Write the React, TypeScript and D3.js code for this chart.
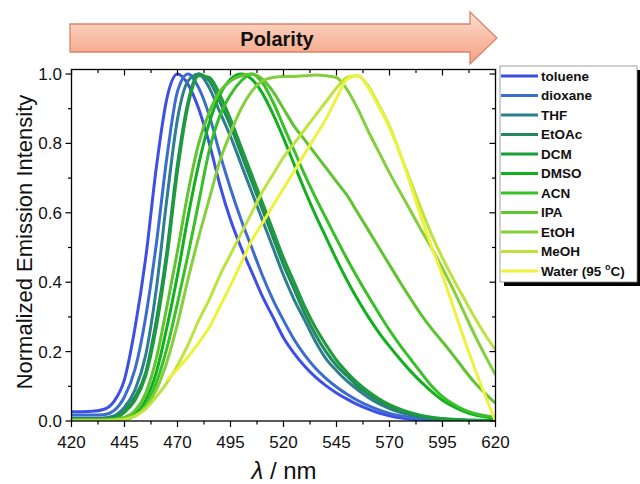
import React from "react";
import * as d3 from "d3";

const wavelengths = [420, 425, 430, 435, 440, 445, 450, 455, 460, 465, 470, 475, 480, 485, 490, 495, 500, 505, 510, 515, 520, 525, 530, 535, 540, 545, 550, 555, 560, 565, 570, 575, 580, 585, 590, 595, 600, 605, 610, 615, 620];

const solvents = ["toluene", "dioxane", "THF", "EtOAc", "DCM", "DMSO", "ACN", "IPA", "EtOH", "MeOH", "Water (95 "];
const colors = ["#3d4fe6", "#3a6dcf", "#2d7e8e", "#23895d", "#1c9c3a", "#12b01e", "#38c027", "#5fc42f", "#86cf3c", "#bde33e", "#eef23c"];

const toluene = [0.027, 0.027, 0.028, 0.033, 0.056, 0.12, 0.27, 0.47, 0.73, 0.93, 1.0, 0.97, 0.9, 0.8, 0.68, 0.58, 0.5, 0.43, 0.36, 0.3, 0.24, 0.195, 0.158, 0.127, 0.102, 0.081, 0.063, 0.047, 0.034, 0.023, 0.015, 0.009, 0.005, 0.003, 0.002, 0.001, 0.001, 0.001, 0.001, 0.001, 0.001];
const dioxane = [0.017, 0.017, 0.017, 0.018, 0.03, 0.07, 0.15, 0.3, 0.51, 0.76, 0.95, 1.0, 0.96, 0.88, 0.77, 0.67, 0.58, 0.5, 0.42, 0.35, 0.29, 0.235, 0.19, 0.153, 0.123, 0.098, 0.077, 0.059, 0.044, 0.032, 0.022, 0.015, 0.01, 0.006, 0.004, 0.002, 0.001, 0.001, 0.001, 0.001, 0.001];
const thf = [0.008, 0.008, 0.008, 0.009, 0.015, 0.04, 0.09, 0.19, 0.38, 0.64, 0.87, 0.98, 1.0, 0.96, 0.89, 0.82, 0.74, 0.66, 0.58, 0.5, 0.42, 0.35, 0.29, 0.23, 0.18, 0.145, 0.115, 0.09, 0.068, 0.05, 0.036, 0.025, 0.017, 0.011, 0.007, 0.004, 0.003, 0.002, 0.001, 0.001, 0.001];
const etoac = [0.005, 0.005, 0.005, 0.006, 0.01, 0.03, 0.07, 0.14, 0.29, 0.49, 0.74, 0.92, 1.0, 0.98, 0.92, 0.85, 0.77, 0.69, 0.61, 0.53, 0.45, 0.38, 0.31, 0.25, 0.2, 0.16, 0.13, 0.1, 0.078, 0.058, 0.042, 0.03, 0.021, 0.014, 0.009, 0.006, 0.004, 0.003, 0.002, 0.001, 0.001];
const dcm = [0.004, 0.004, 0.004, 0.005, 0.008, 0.025, 0.06, 0.13, 0.27, 0.47, 0.72, 0.91, 0.995, 0.99, 0.94, 0.87, 0.79, 0.71, 0.63, 0.55, 0.47, 0.4, 0.33, 0.27, 0.22, 0.175, 0.14, 0.11, 0.085, 0.064, 0.047, 0.034, 0.024, 0.016, 0.011, 0.007, 0.005, 0.003, 0.002, 0.002, 0.001];
const dmso = [0.002, 0.002, 0.002, 0.003, 0.005, 0.008, 0.02, 0.06, 0.14, 0.27, 0.42, 0.59, 0.74, 0.86, 0.94, 0.985, 1.0, 0.985, 0.945, 0.885, 0.815, 0.74, 0.665, 0.595, 0.53, 0.465, 0.405, 0.35, 0.3, 0.255, 0.215, 0.178, 0.143, 0.112, 0.084, 0.06, 0.042, 0.028, 0.018, 0.012, 0.008];
const acn = [0.002, 0.002, 0.002, 0.002, 0.004, 0.005, 0.015, 0.045, 0.11, 0.21, 0.34, 0.48, 0.63, 0.78, 0.88, 0.94, 0.98, 1.0, 0.975, 0.92, 0.85, 0.78, 0.71, 0.645, 0.585, 0.525, 0.467, 0.412, 0.36, 0.31, 0.262, 0.218, 0.178, 0.138, 0.1, 0.07, 0.049, 0.033, 0.022, 0.015, 0.01];
const ipa = [0.002, 0.002, 0.002, 0.003, 0.005, 0.01, 0.03, 0.08, 0.18, 0.33, 0.49, 0.66, 0.8, 0.89, 0.95, 0.98, 0.995, 1.0, 0.985, 0.95, 0.9, 0.85, 0.81, 0.77, 0.73, 0.69, 0.65, 0.6, 0.55, 0.5, 0.45, 0.4, 0.352, 0.306, 0.265, 0.228, 0.19, 0.15, 0.112, 0.08, 0.051];
const etoh = [0.002, 0.002, 0.002, 0.002, 0.003, 0.005, 0.015, 0.04, 0.09, 0.17, 0.28, 0.41, 0.53, 0.64, 0.75, 0.83, 0.9, 0.95, 0.98, 0.99, 0.993, 0.993, 0.995, 0.997, 0.995, 0.99, 0.955, 0.9, 0.835, 0.775, 0.715, 0.66, 0.605, 0.55, 0.497, 0.44, 0.38, 0.315, 0.25, 0.19, 0.133];
const meoh = [0.001, 0.001, 0.001, 0.001, 0.002, 0.005, 0.015, 0.035, 0.07, 0.11, 0.16, 0.22, 0.29, 0.35, 0.42, 0.48, 0.54, 0.6, 0.66, 0.71, 0.76, 0.8, 0.84, 0.88, 0.92, 0.96, 0.99, 0.995, 0.965, 0.91, 0.85, 0.77, 0.69, 0.61, 0.535, 0.47, 0.41, 0.355, 0.3, 0.25, 0.205];
const water = [null, null, null, null, null, null, null, null, null, 0.118, 0.15, 0.185, 0.225, 0.27, 0.33, 0.39, 0.455, 0.52, 0.57, 0.62, 0.67, 0.72, 0.77, 0.82, 0.87, 0.93, 0.985, 0.995, 0.96, 0.905, 0.845, 0.77, 0.68, 0.585, 0.5, 0.42, 0.33, 0.24, 0.155, 0.075, 0.0];

const seriesValues = [toluene, dioxane, thf, etoac, dcm, dmso, acn, ipa, etoh, meoh, water];

const xTickValues = [420, 445, 470, 495, 520, 545, 570, 595, 620];
const yTickValues = [0, 0.2, 0.4, 0.6, 0.8, 1.0];

export default function App() {
  const W = 640, H = 484;
  const left = 71.5, right = 495.5, top = 69.5, bottom = 421;
  const x = d3.scaleLinear().domain([420, 620]).range([left, right]);
  const y = d3.scaleLinear().domain([0, 1.013]).range([bottom, top]);

  const line = d3
    .line<[number, number | null]>()
    .defined((d) => d[1] != null)
    .x((d) => x(d[0]))
    .y((d) => y(d[1] as number))
    .curve(d3.curveMonotoneX);

  const xMinor = xTickValues.slice(0, -1).map((v) => v + 12.5);
  const yMinor = yTickValues.slice(0, -1).map((v) => v + 0.1);
  const font = "'Liberation Sans', Arial, sans-serif";

  const series = solvents.map((name, i) => ({
    name,
    color: colors[i],
    pts: wavelengths.map((w, j) => [w, seriesValues[i][j]] as [number, number | null]),
  }));

  const legX = 500, legY = 66, legW = 137, legH = 216;

  return (
    <div style={{ position: "absolute", left: 0, top: 0 }}>
      <svg width={W} height={H} style={{ display: "block", background: "#fff" }}>
        <defs>
          <linearGradient id="arrowGrad" x1="0" y1="0" x2="0" y2="1">
            <stop offset="0" stopColor="#fde0d3" />
            <stop offset="0.5" stopColor="#f9bda6" />
            <stop offset="1" stopColor="#f3a184" />
          </linearGradient>
          <clipPath id="plotClip">
            <rect x={left} y={top - 4} width={right - left} height={bottom - top + 4} />
          </clipPath>
        </defs>

        {/* Polarity arrow */}
        <path
          d="M70,24 L470,24 L470,12 L497,38 L470,64 L470,52 L70,52 Z"
          fill="url(#arrowGrad)"
          stroke="#d98467"
          strokeWidth={1.3}
        />
        <text x={277} y={46} textAnchor="middle" fontFamily={font} fontWeight="bold" fontSize={20} fill="#111">
          Polarity
        </text>

        {/* curves */}
        <g clipPath="url(#plotClip)">
          {series.map((s) => (
            <path key={s.name} d={line(s.pts) || ""} fill="none" stroke={s.color} strokeWidth={3} strokeLinejoin="round" />
          ))}
        </g>

        {/* frame */}
        <rect x={left} y={top} width={right - left} height={bottom - top} fill="none" stroke="#000" strokeWidth={1.3} />

        {/* x ticks */}
        {xTickValues.map((v) => (
          <g key={"xt" + v}>
            <line x1={x(v)} x2={x(v)} y1={bottom} y2={bottom + 6} stroke="#000" strokeWidth={1.2} />
            <line x1={x(v)} x2={x(v)} y1={top} y2={top + 6} stroke="#000" strokeWidth={1.2} />
            <text x={x(v)} y={448} textAnchor="middle" fontFamily={font} fontSize={17} fill="#111">
              {v}
            </text>
          </g>
        ))}
        {xMinor.map((v) => (
          <g key={"xm" + v}>
            <line x1={x(v)} x2={x(v)} y1={bottom} y2={bottom + 3.5} stroke="#000" strokeWidth={1.2} />
            <line x1={x(v)} x2={x(v)} y1={top} y2={top + 3.5} stroke="#000" strokeWidth={1.2} />
          </g>
        ))}

        {/* y ticks */}
        {yTickValues.map((v) => (
          <g key={"yt" + v}>
            <line x1={left - 6} x2={left} y1={y(v)} y2={y(v)} stroke="#000" strokeWidth={1.2} />
            <line x1={right - 6} x2={right} y1={y(v)} y2={y(v)} stroke="#000" strokeWidth={1.2} />
            <text x={62} y={y(v) + 6} textAnchor="end" fontFamily={font} fontSize={17} fill="#111">
              {v.toFixed(1)}
            </text>
          </g>
        ))}
        {yMinor.map((v) => (
          <g key={"ym" + v}>
            <line x1={left - 3.5} x2={left} y1={y(v)} y2={y(v)} stroke="#000" strokeWidth={1.2} />
            <line x1={right - 3.5} x2={right} y1={y(v)} y2={y(v)} stroke="#000" strokeWidth={1.2} />
          </g>
        ))}

        {/* axis titles */}
        <text
          transform="translate(32,242) rotate(-90)"
          textAnchor="middle"
          fontFamily={font}
          fontSize={22}
          fill="#111"
        >
          Normalized Emission Intensity
        </text>
        <text x={284} y={479} textAnchor="middle" fontFamily={font} fontSize={24} fill="#111">
          <tspan fontStyle="italic">λ</tspan>
          <tspan> / nm</tspan>
        </text>

        {/* legend */}
        <rect x={legX + 4} y={legY + 4} width={legW} height={legH} fill="#000" />
        <rect x={legX} y={legY} width={legW} height={legH} fill="#fff" stroke="#888" strokeWidth={0.8} />
        {series.map((s, i) => {
          const ly = 76 + i * 19.5;
          const isWater = i === series.length - 1;
          return (
            <g key={"lg" + s.name}>
              <line x1={legX + 1} x2={538} y1={ly} y2={ly} stroke={s.color} strokeWidth={3.2} />
              <text x={541} y={ly + 4.6} fontFamily={font} fontWeight="bold" fontSize={13.5} fill="#111">
                {s.name}
                {isWater && (
                  <>
                    <tspan fontSize={9} dy={-6}>o</tspan>
                    <tspan dy={6}>C)</tspan>
                  </>
                )}
              </text>
            </g>
          );
        })}
      </svg>
    </div>
  );
}
